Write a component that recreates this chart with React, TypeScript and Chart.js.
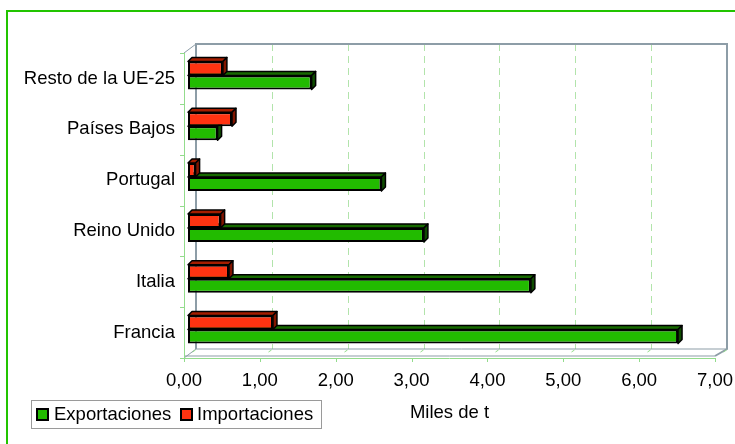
import React, { useEffect, useRef } from 'react';
import { Chart, registerables } from 'chart.js';

Chart.register(...registerables);

const categories = ['Resto de la UE-25', 'Países Bajos', 'Portugal', 'Reino Unido', 'Italia', 'Francia'];
const exportaciones = [1.63, 0.39, 2.55, 3.11, 4.52, 6.46];
const importaciones = [0.46, 0.58, 0.1, 0.43, 0.54, 1.12];
const xTickLabels = ['0,00', '1,00', '2,00', '3,00', '4,00', '5,00', '6,00', '7,00'];
const seriesNames = ['Exportaciones', 'Importaciones'];
const xTitle = 'Miles de t';

const FONT_SIZE = 18.5;
const FONT_FAMILY = "'Liberation Sans', Arial, sans-serif";

const GREEN = '#22bb00';
const RED = '#ff3311';
const GREEN_TOP = '#176a00';
const GREEN_SIDE = '#0e4c00';
const RED_TOP = '#a41d00';
const RED_SIDE = '#821500';

const DEPTH = { x: 12, y: -9 };
const BAR_SHIFT = { x: 4, y: -3 };
const BAR_DEPTH = { x: 4, y: -4 };

function line(ctx: CanvasRenderingContext2D, x1: number, y1: number, x2: number, y2: number) {
  ctx.beginPath();
  ctx.moveTo(x1, y1);
  ctx.lineTo(x2, y2);
  ctx.stroke();
}

const pseudo3d = {
  id: 'pseudo3d',
  beforeDraw(chart: any) {
    const { ctx, width, height } = chart;
    ctx.save();
    ctx.fillStyle = '#ffffff';
    ctx.fillRect(0, 0, width, height);
    ctx.restore();
  },
  beforeDatasetsDraw(chart: any) {
    const { ctx, chartArea: a, scales } = chart;
    const xs = scales.x;
    ctx.save();
    // back wall gridlines
    ctx.strokeStyle = '#b2e4ab';
    ctx.lineWidth = 1;
    ctx.setLineDash([7, 5]);
    for (let v = 1; v < 7; v++) {
      const px = Math.round(xs.getPixelForValue(v) + DEPTH.x) + 0.5;
      line(ctx, px, a.top + DEPTH.y, px, a.bottom + DEPTH.y);
    }
    ctx.setLineDash([]);
    const bl = a.left + DEPTH.x;
    const br = a.right + DEPTH.x;
    const bt = a.top + DEPTH.y;
    const bb = a.bottom + DEPTH.y;
    // back wall outline
    ctx.strokeStyle = '#8d9da7';
    ctx.lineWidth = 2;
    ctx.beginPath();
    ctx.moveTo(bl, bb);
    ctx.lineTo(bl, bt);
    ctx.lineTo(br, bt);
    ctx.lineTo(br, bb);
    ctx.lineTo(a.right, a.bottom - 2);
    ctx.stroke();
    ctx.lineWidth = 1;
    line(ctx, bl, bt, a.left, a.top);
    line(ctx, bl, bb, br, bb);
    line(ctx, bl, bb, a.left, a.bottom);
    line(ctx, a.left, a.bottom - 2, a.right, a.bottom - 2);
    // front axes (light green)
    ctx.strokeStyle = '#93dc8c';
    ctx.lineWidth = 1;
    line(ctx, a.left + 0.5, a.top, a.left + 0.5, a.bottom);
    line(ctx, a.left, a.bottom + 0.5, a.right, a.bottom + 0.5);
    for (let v = 0; v <= 7; v++) {
      const px = Math.round(xs.getPixelForValue(v)) + 0.5;
      line(ctx, px, a.bottom, px, a.bottom + 4);
      line(ctx, px + 8, a.bottom - 6, px + 11, a.bottom - 8);
    }
    const band = (a.bottom - a.top) / categories.length;
    for (let k = 0; k <= categories.length; k++) {
      const py = Math.round(a.top + k * band) + 0.5;
      line(ctx, a.left - 4, py, a.left, py);
    }
    ctx.restore();
    ctx.save();
    ctx.translate(BAR_SHIFT.x, BAR_SHIFT.y);
  },
  beforeDatasetDraw(chart: any, args: any) {
    const { ctx } = chart;
    const ds = chart.data.datasets[args.index];
    const topC = ds.faceTop;
    const sideC = ds.faceSide;
    args.meta.data.forEach((el: any) => {
      const { x, y, base, height } = el.getProps(['x', 'y', 'base', 'height'], true);
      const t = y - height / 2;
      const b = y + height / 2;
      const dx = BAR_DEPTH.x;
      const dy = BAR_DEPTH.y;
      ctx.save();
      ctx.lineWidth = 1.5;
      ctx.strokeStyle = '#000';
      ctx.lineJoin = 'round';
      ctx.beginPath();
      ctx.moveTo(base, t);
      ctx.lineTo(base + dx, t + dy);
      ctx.lineTo(x + dx, t + dy);
      ctx.lineTo(x, t);
      ctx.closePath();
      ctx.fillStyle = topC;
      ctx.fill();
      ctx.stroke();
      ctx.beginPath();
      ctx.moveTo(x, t);
      ctx.lineTo(x + dx, t + dy);
      ctx.lineTo(x + dx, b + dy);
      ctx.lineTo(x, b);
      ctx.closePath();
      ctx.fillStyle = sideC;
      ctx.fill();
      ctx.stroke();
      ctx.restore();
    });
  },
  afterDatasetsDraw(chart: any) {
    chart.ctx.restore();
  },
  afterDraw(chart: any) {
    const { ctx } = chart;
    ctx.save();
    // legend box
    ctx.strokeStyle = '#9a9a9a';
    ctx.lineWidth = 1;
    ctx.strokeRect(31.5, 400.5, 290, 28);
    const items = [
      { name: seriesNames[0], color: GREEN, box: 37, text: 54 },
      { name: seriesNames[1], color: RED, box: 181, text: 197 },
    ];
    ctx.font = `${FONT_SIZE}px ${FONT_FAMILY}`;
    ctx.textBaseline = 'middle';
    ctx.textAlign = 'left';
    items.forEach((it) => {
      ctx.fillStyle = it.color;
      ctx.fillRect(it.box, 409, 11, 11);
      ctx.strokeStyle = '#000';
      ctx.lineWidth = 2;
      ctx.strokeRect(it.box, 409, 11, 11);
      ctx.fillStyle = '#000';
      ctx.fillText(it.name, it.text, 415);
    });
    // outer green frame
    ctx.strokeStyle = '#22c400';
    ctx.lineWidth = 2;
    ctx.strokeRect(7, 11, 800, 500);
    ctx.restore();
  },
};

export default function App() {
  const ref = useRef<HTMLCanvasElement | null>(null);

  useEffect(() => {
    if (!ref.current) return;
    Chart.defaults.font.family = FONT_FAMILY;
    Chart.defaults.font.size = FONT_SIZE;
    Chart.defaults.color = '#000';
    const chart = new Chart(ref.current, {
      type: 'bar',
      data: {
        labels: categories,
        datasets: [
          {
            label: seriesNames[1],
            data: importaciones,
            backgroundColor: RED,
            faceTop: RED_TOP,
            faceSide: RED_SIDE,
          } as any,
          {
            label: seriesNames[0],
            data: exportaciones,
            backgroundColor: GREEN,
            faceTop: GREEN_TOP,
            faceSide: GREEN_SIDE,
          } as any,
        ].map((d) => ({
          ...d,
          borderColor: '#000',
          borderWidth: 2,
          borderSkipped: false,
          categoryPercentage: 0.551,
          barPercentage: 1,
          clip: false,
        })),
      },
      options: {
        indexAxis: 'y',
        responsive: false,
        animation: false,
        events: [],
        layout: { padding: { top: 53, right: 20, bottom: 0, left: 0 } },
        plugins: { legend: { display: false }, tooltip: { enabled: false } },
        scales: {
          x: {
            min: 0,
            max: 7,
            ticks: {
              stepSize: 1,
              padding: 0,
              color: '#000',
              font: { size: FONT_SIZE },
              callback: (_v: any, i: number) => xTickLabels[i],
            },
            grid: { display: false, drawTicks: true, tickLength: 12 },
            border: { display: false },
            title: {
              display: true,
              text: xTitle,
              color: '#000',
              font: { size: FONT_SIZE },
              padding: { top: 0, bottom: 20 },
            },
            afterFit: (s: any) => {
              s.height = 86;
            },
          },
          y: {
            ticks: { padding: 9, color: '#000', font: { size: FONT_SIZE } },
            grid: { display: false, drawTicks: false },
            border: { display: false },
            afterFit: (s: any) => {
              s.width = 184;
            },
          },
        },
      } as any,
      plugins: [pseudo3d],
    });
    return () => chart.destroy();
  }, []);

  return (
    <div style={{ position: 'absolute', left: 0, top: 0, width: 735, height: 444 }}>
      <canvas ref={ref} width={735} height={444} />
    </div>
  );
}
